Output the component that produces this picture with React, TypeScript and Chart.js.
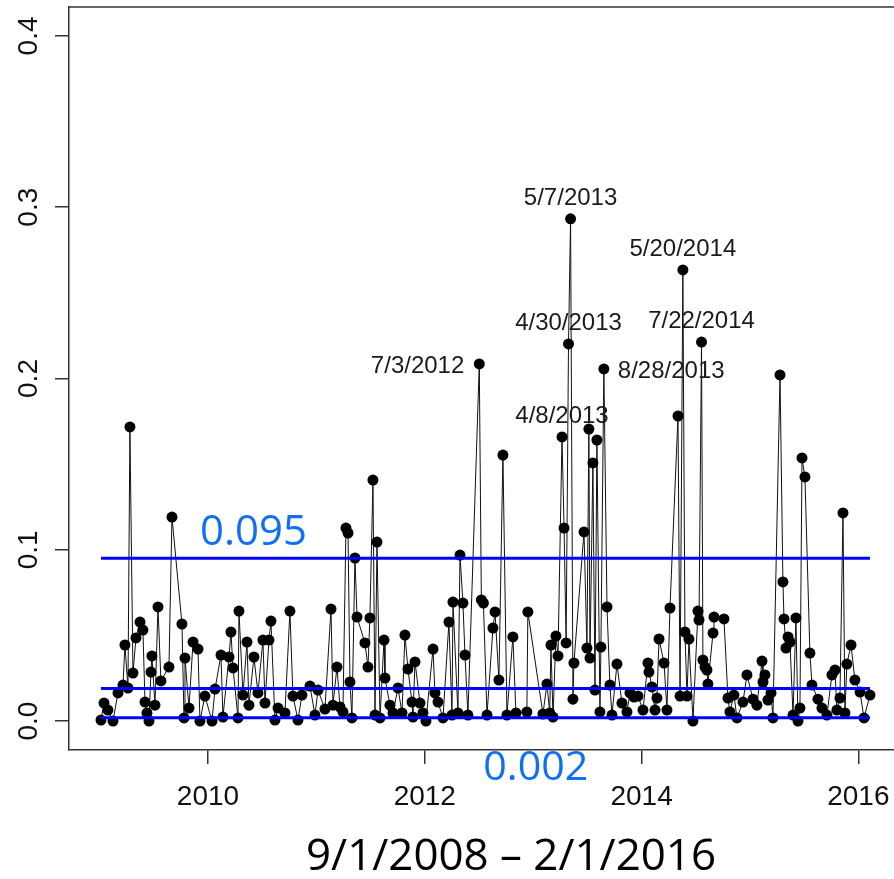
import React, { useEffect, useRef } from 'react';
import { Chart, registerables } from 'chart.js';
Chart.register(...registerables);

// ---- data (decimal year, value) ----
const years: number[] = [
  2009.013, 2009.041, 2009.077, 2009.124, 2009.170, 2009.216, 2009.234, 2009.262, 2009.280, 2009.308,
  2009.336, 2009.373, 2009.400, 2009.419, 2009.437, 2009.456, 2009.474, 2009.483, 2009.511, 2009.539,
  2009.566, 2009.640, 2009.668, 2009.760, 2009.779, 2009.788, 2009.825, 2009.862, 2009.908, 2009.926,
  2009.972, 2010.037, 2010.065, 2010.120, 2010.138, 2010.194, 2010.212, 2010.231, 2010.277, 2010.286,
  2010.323, 2010.360, 2010.378, 2010.424, 2010.461, 2010.507, 2010.526, 2010.563, 2010.581, 2010.618,
  2010.646, 2010.710, 2010.756, 2010.784, 2010.830, 2010.867, 2010.941, 2010.987, 2011.015, 2011.079,
  2011.135, 2011.153, 2011.190, 2011.218, 2011.245, 2011.273, 2011.292, 2011.310, 2011.328, 2011.356,
  2011.375, 2011.448, 2011.476, 2011.494, 2011.522, 2011.541, 2011.559, 2011.587, 2011.624, 2011.633,
  2011.679, 2011.707, 2011.753, 2011.790, 2011.817, 2011.845, 2011.882, 2011.891, 2011.910, 2011.956,
  2011.983, 2012.011, 2012.076, 2012.094, 2012.122, 2012.168, 2012.223, 2012.251, 2012.260, 2012.306,
  2012.325, 2012.352, 2012.371, 2012.398, 2012.503, 2012.522, 2012.541, 2012.574, 2012.629, 2012.648,
  2012.684, 2012.721, 2012.758, 2012.813, 2012.841, 2012.942, 2012.951, 2013.090, 2013.127, 2013.153,
  2013.164, 2013.183, 2013.210, 2013.229, 2013.266, 2013.285, 2013.304, 2013.326, 2013.345, 2013.367,
  2013.376, 2013.469, 2013.496, 2013.514, 2013.524, 2013.551, 2013.570, 2013.588, 2013.616, 2013.625,
  2013.652, 2013.681, 2013.708, 2013.727, 2013.773, 2013.819, 2013.865, 2013.893, 2013.930, 2013.967,
  2014.013, 2014.059, 2014.068, 2014.096, 2014.124, 2014.142, 2014.161, 2014.207, 2014.234, 2014.262,
  2014.336, 2014.355, 2014.381, 2014.400, 2014.419, 2014.437, 2014.474, 2014.520, 2014.530, 2014.553,
  2014.566, 2014.585, 2014.603, 2014.612, 2014.659, 2014.668, 2014.760, 2014.797, 2014.815, 2014.852,
  2014.880, 2014.935, 2014.972, 2015.028, 2015.064, 2015.111, 2015.120, 2015.138, 2015.166, 2015.194,
  2015.212, 2015.277, 2015.304, 2015.314, 2015.332, 2015.351, 2015.369, 2015.397, 2015.424, 2015.443,
  2015.461, 2015.480, 2015.507, 2015.553, 2015.572, 2015.627, 2015.664, 2015.710, 2015.756, 2015.784,
  2015.802, 2015.830, 2015.858, 2015.876, 2015.894, 2015.932, 2015.968, 2016.015, 2016.052, 2016.107,
];

const values: number[] = [
  0.0006, 0.0105, 0.0064, 0.0, 0.0164, 0.021, 0.0444, 0.0193, 0.1717, 0.028,
  0.0485, 0.0578, 0.0531, 0.0111, 0.0047, 0.0, 0.0286, 0.038, 0.0093, 0.0666,
  0.0234, 0.0315, 0.1191, 0.0566, 0.0018, 0.0368, 0.0076, 0.0461, 0.042, 0.0,
  0.0146, 0.0, 0.0187, 0.0385, 0.0023, 0.0374, 0.052, 0.031, 0.0018, 0.0642,
  0.0152, 0.0461, 0.0093, 0.0374, 0.0164, 0.0473, 0.0105, 0.0473, 0.0584, 0.0006,
  0.0076, 0.0047, 0.0642, 0.0146, 0.0006, 0.0152, 0.0204, 0.0035, 0.0181, 0.007,
  0.0654, 0.0093, 0.0315, 0.0082, 0.0053, 0.1127, 0.1098, 0.0228, 0.0018, 0.0952,
  0.0607, 0.0456, 0.0315, 0.0602, 0.1407, 0.0035, 0.1045, 0.0018, 0.0473, 0.0251,
  0.0093, 0.0047, 0.0193, 0.0047, 0.0502, 0.0304, 0.0111, 0.0023, 0.0345, 0.0105,
  0.0047, 0.0, 0.042, 0.0164, 0.0111, 0.0018, 0.0578, 0.0035, 0.0695, 0.0047,
  0.0969, 0.0689, 0.0385, 0.0035, 0.2085, 0.0707, 0.0689, 0.0035, 0.0543, 0.0637,
  0.0239, 0.1553, 0.0035, 0.0491, 0.0047, 0.0053, 0.0637, 0.0041, 0.0216, 0.0047,
  0.0444, 0.0023, 0.0496, 0.038, 0.1659, 0.1127, 0.0456, 0.2202, 0.2932, 0.0128,
  0.0339, 0.1104, 0.0426, 0.1705, 0.0368, 0.1507, 0.0181, 0.1641, 0.0053, 0.0432,
  0.2056, 0.0666, 0.021, 0.0035, 0.0333, 0.0105, 0.0053, 0.0164, 0.014, 0.0146,
  0.0064, 0.0339, 0.0286, 0.0199, 0.0064, 0.0134, 0.0479, 0.0339, 0.0064, 0.066,
  0.1781, 0.0146, 0.2634, 0.052, 0.0146, 0.0479, 0.0, 0.0642, 0.059, 0.2213,
  0.0356, 0.0315, 0.0298, 0.0216, 0.0514, 0.0607, 0.0596, 0.0134, 0.0053, 0.0152,
  0.0018, 0.0111, 0.0269, 0.0128, 0.0093, 0.035, 0.0228, 0.0269, 0.0123, 0.0164,
  0.0018, 0.2021, 0.0812, 0.0596, 0.0426, 0.0491, 0.0461, 0.0035, 0.0602, 0.0,
  0.0076, 0.1536, 0.1425, 0.0397, 0.021, 0.0128, 0.0076, 0.0035, 0.0269, 0.0298,
  0.0064, 0.0134, 0.1215, 0.0047, 0.0333, 0.0444, 0.0239, 0.0169, 0.0018, 0.0152,
];

const thresholdValues: number[] = [0.095, 0.019, 0.002];
const thresholdLabels: string[] = ['0.095', '0.002'];
const thresholdLabelValues: number[] = [0.095, 0.002];
const thresholdLabelYears: number[] = [2009.926, 2012.54];

const yTickValues: number[] = [0, 0.1, 0.2, 0.3, 0.4];
const yTickLabels: string[] = ['0.0', '0.1', '0.2', '0.3', '0.4'];
const xTickValues: number[] = [2010, 2012, 2014, 2016];
const xTickLabels: string[] = ['2010', '2012', '2014', '2016'];

const annotationDates: string[] = ['5/7/2013', '5/20/2014', '4/30/2013', '7/22/2014', '7/3/2012', '8/28/2013', '4/8/2013'];
const annotationYears: number[] = [2013.345, 2014.381, 2013.326, 2014.553, 2012.503, 2013.652, 2013.266];
const annotationValues: number[] = [0.2932, 0.2634, 0.2202, 0.2213, 0.2085, 0.2056, 0.1659];
const annotationSides: string[] = ['top', 'top', 'top', 'top', 'left', 'right', 'top'];

const periodTitle = '9/1/2008 \u2013 2/1/2016';

const X_MIN = 2008.718;
const X_MAX = 2016.384;
const Y_MIN = -0.0169;
const Y_MAX = 0.4169;

const AXIS_COLOR = '#333333';
const LABEL_BLUE = '#106ff4';
const SANS = '"Liberation Sans", Arial, sans-serif';
const CAL = '"Open Sans", "Noto Sans", sans-serif';

function fittedText(ctx: CanvasRenderingContext2D, text: string, left: number, baseline: number, width: number, size: number, family: string, color: string) {
  ctx.save();
  ctx.font = `${size}px ${family}`;
  const w = ctx.measureText(text).width;
  ctx.translate(left, baseline);
  ctx.scale(width / w, 1);
  ctx.fillStyle = color;
  ctx.textAlign = 'left';
  ctx.textBaseline = 'alphabetic';
  ctx.fillText(text, 0, 0);
  ctx.restore();
}

const decorPlugin = {
  id: 'decor',
  afterDraw(chart: any) {
    const ctx: CanvasRenderingContext2D = chart.ctx;
    const { left, right, top, bottom } = chart.chartArea;
    const xs = chart.scales.x;
    const ys = chart.scales.y;
    ctx.save();
    // box top + right
    ctx.strokeStyle = AXIS_COLOR;
    ctx.lineWidth = 1.5;
    ctx.beginPath();
    ctx.moveTo(left, top);
    ctx.lineTo(right, top);
    ctx.lineTo(right, bottom);
    ctx.stroke();

    // y tick labels (rotated)
    ctx.fillStyle = '#111';
    ctx.font = `28px ${SANS}`;
    ctx.textAlign = 'center';
    ctx.textBaseline = 'alphabetic';
    yTickValues.forEach((v, i) => {
      const py = ys.getPixelForValue(v);
      ctx.save();
      ctx.translate(37, py);
      ctx.rotate(-Math.PI / 2);
      ctx.fillText(yTickLabels[i], 0, 0);
      ctx.restore();
    });

    // x tick labels
    ctx.font = `28px ${SANS}`;
    ctx.textAlign = 'center';
    xTickValues.forEach((v, i) => {
      const px = xs.getPixelForValue(v);
      ctx.fillText(xTickLabels[i], px, 805);
    });

    // annotations
    ctx.font = `24px ${SANS}`;
    ctx.fillStyle = '#1a1a1a';
    annotationDates.forEach((t, i) => {
      const px = xs.getPixelForValue(annotationYears[i]);
      const py = ys.getPixelForValue(annotationValues[i]);
      const side = annotationSides[i];
      if (side === 'top') {
        ctx.textAlign = 'center';
        ctx.fillText(t, px, py - 14);
      } else if (side === 'left') {
        ctx.textAlign = 'right';
        ctx.fillText(t, px - 15, py + 9);
      } else {
        ctx.textAlign = 'left';
        ctx.fillText(t, px + 14, py + 9);
      }
    });

    // blue threshold labels
    {
      const px = xs.getPixelForValue(thresholdLabelYears[0]);
      const py = ys.getPixelForValue(thresholdLabelValues[0]);
      fittedText(ctx, thresholdLabels[0], px, py - 13, 107, 42, CAL, LABEL_BLUE);
    }
    {
      const px = xs.getPixelForValue(thresholdLabelYears[1]);
      const py = ys.getPixelForValue(thresholdLabelValues[1]);
      fittedText(ctx, thresholdLabels[1], px, py + 62, 105, 40, CAL, LABEL_BLUE);
    }

    // period title
    fittedText(ctx, periodTitle, 306, 870, 410, 43, CAL, '#000');
    ctx.restore();
  },
};

export default function App() {
  const ref = useRef<HTMLCanvasElement | null>(null);
  useEffect(() => {
    if (!ref.current) return;
    const series = years.map((x, i) => ({ x, y: values[i] }));
    const x0 = years[0];
    const x1 = years[years.length - 1];
    const thresholdSets = thresholdValues.map((v) => ({
      data: [{ x: x0, y: v }, { x: x1, y: v }],
      borderColor: '#0000ff',
      borderWidth: 3,
      pointRadius: 0,
      order: 0,
    }));
    const chart = new Chart(ref.current, {
      type: 'line',
      data: {
        datasets: [
          ...thresholdSets,
          {
            data: series,
            borderColor: '#111',
            borderWidth: 1,
            pointRadius: 5.5,
            pointBackgroundColor: '#000',
            pointBorderColor: '#000',
            pointBorderWidth: 0,
            tension: 0,
            order: 1,
          },
        ] as any,
      },
      options: {
        responsive: false,
        animation: false,
        devicePixelRatio: 1,
        layout: { padding: { left: 55, top: 7, right: 10, bottom: 115 } },
        plugins: { legend: { display: false }, tooltip: { enabled: false } },
        scales: {
          x: {
            type: 'linear',
            min: X_MIN,
            max: X_MAX,
            afterBuildTicks: (s: any) => { s.ticks = xTickValues.map((value) => ({ value })); },
            ticks: { display: false },
            grid: { drawOnChartArea: false, drawTicks: true, tickLength: 14, color: AXIS_COLOR, lineWidth: 1.5 },
            border: { display: true, color: AXIS_COLOR, width: 1.5 },
          },
          y: {
            type: 'linear',
            min: Y_MIN,
            max: Y_MAX,
            afterBuildTicks: (s: any) => { s.ticks = yTickValues.map((value) => ({ value })); },
            ticks: { display: false },
            grid: { drawOnChartArea: false, drawTicks: true, tickLength: 14, color: AXIS_COLOR, lineWidth: 1.5 },
            border: { display: true, color: AXIS_COLOR, width: 1.5 },
          },
        },
      } as any,
      plugins: [decorPlugin],
    });
    return () => chart.destroy();
  }, []);
  return (
    <div style={{ position: 'fixed', left: 0, top: 0, width: 894, height: 879, overflow: 'hidden', background: '#fff' }}>
      <canvas ref={ref} width={910} height={879} style={{ display: 'block', width: 910, height: 879 }} />
    </div>
  );
}
